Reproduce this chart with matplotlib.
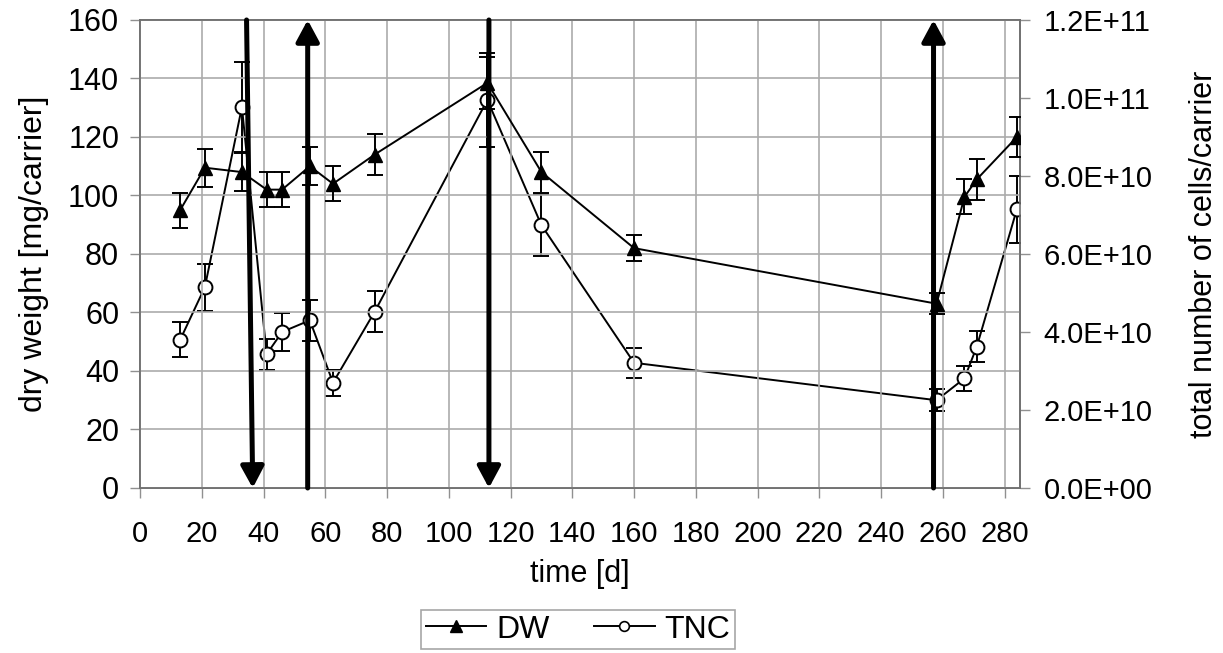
import matplotlib
matplotlib.use("Agg")
import matplotlib.pyplot as plt
from matplotlib.lines import Line2D
from matplotlib.ticker import FuncFormatter, MultipleLocator

plt.rcParams['font.family'] = ['Liberation Sans', 'DejaVu Sans']

# Datos
days = [13, 21, 33, 41, 46, 55, 62.5, 76, 112.5, 130, 160, 258, 267, 271, 284]

# dry weight [mg/carrier]
dw = [95, 109.5, 108, 102, 102, 110, 104, 114, 138.5, 108, 82, 63, 99.5, 105.5, 120]
dw_err = [6, 6.5, 6.5, 6, 6, 6.5, 6, 7, 9, 7, 4.5, 3.5, 6, 7, 7]

# total number of cells/carrier (x 1e10)
tnc = [3.80, 5.15, 9.77, 3.43, 4.00, 4.30, 2.70, 4.52, 9.95, 6.74, 3.21, 2.25, 2.81, 3.62, 7.15]
tnc_err = [0.45, 0.60, 1.16, 0.40, 0.49, 0.53, 0.33, 0.53, 1.20, 0.79, 0.38, 0.28, 0.32, 0.40, 0.86]

# Flechas: (x cola, x punta, direccion)
arrows = [(34.5, 36.5, 'down'), (54.3, 54.3, 'up'), (113, 113, 'down'), (257, 257, 'up')]

fig = plt.figure(figsize=(12.23, 6.53), dpi=100)
ax1 = fig.add_axes([0.1145, 0.2527, 0.7195, 0.7167])
ax2 = ax1.twinx()

grid_c = '#ababab'
fs = 22

# DW
ax1.errorbar(days, dw, yerr=dw_err, color='black', lw=1.4, marker='^', ms=10,
             mfc='black', mec='black', capsize=6, elinewidth=1.4, capthick=1.4,
             zorder=3)

# TNC
tnc_abs = [v * 1e10 for v in tnc]
tnc_err_abs = [v * 1e10 for v in tnc_err]
ax2.errorbar(days, tnc_abs, yerr=tnc_err_abs, color='black', lw=1.4, marker='o', ms=10,
             mfc='white', mec='black', mew=1.4, capsize=6, elinewidth=1.4, capthick=1.4,
             zorder=3)

ax1.set_xlim(0, 285)
ax1.set_ylim(0, 160)
ax2.set_ylim(0, 1.2e11)
ax1.xaxis.set_major_locator(MultipleLocator(20))
ax1.yaxis.set_major_locator(MultipleLocator(20))
ax2.yaxis.set_major_locator(MultipleLocator(2e10))
ax2.yaxis.set_major_formatter(FuncFormatter(lambda v, p: f"{v:.1E}"))

ax1.grid(True, color=grid_c, lw=1.2)
ax1.set_axisbelow(True)

for ax in (ax1, ax2):
    for s in ax.spines.values():
        s.set_color('#707070')
        s.set_linewidth(1.2)
    ax.tick_params(direction='out', length=7, width=1, color='#909090',
                   labelsize=fs, pad=8)
ax1.tick_params(axis='x', labelsize=21, pad=16)
ax2.tick_params(axis='y', labelsize=21, pad=10)

ax1.set_xlabel('time [d]', fontsize=fs, labelpad=8)
ax1.set_ylabel('dry weight [mg/carrier]', fontsize=23, labelpad=14)
ax2.set_ylabel('total number of cells/carrier', fontsize=fs, labelpad=26)

# Flechas gruesas
for x_tail, x_tip, d in arrows:
    if d == 'down':
        tail, tip = (x_tail, 160), (x_tip, 0)
    else:
        tail, tip = (x_tail, 0), (x_tip, 160)
    ax1.annotate('', xy=tip, xytext=tail, xycoords='data',
                 arrowprops=dict(arrowstyle='-|>,head_length=1.3,head_width=0.7',
                                 lw=3.6, color='black', shrinkA=0, shrinkB=0),
                 annotation_clip=False, zorder=5)

ax1.set_zorder(ax2.get_zorder() + 1)
ax1.patch.set_visible(False)

handles = [Line2D([], [], color='black', lw=1.4, marker='^', ms=8, mfc='black'),
           Line2D([], [], color='black', lw=1.4, marker='o', ms=7, mfc='white', mew=1.2)]
leg = fig.legend(handles, ['DW', 'TNC'], loc='center',
                 bbox_to_anchor=(578 / 1223, 1 - 629.5 / 653),
                 ncol=2, fontsize=23, frameon=True, fancybox=False, edgecolor='#909090',
                 handlelength=1.9, handletextpad=0.3, columnspacing=1.4, borderpad=0.15,
                 borderaxespad=0)
leg.get_frame().set_linewidth(1.2)

fig.savefig('out.png', dpi=100)
